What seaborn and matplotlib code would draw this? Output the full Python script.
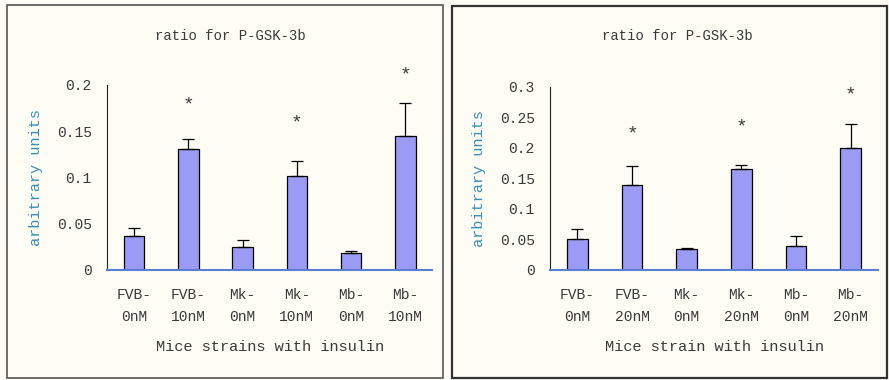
import numpy as np
import pandas as pd
import matplotlib.pyplot as plt
import seaborn as sns
from matplotlib.patches import Rectangle

sns.set_style("white")
plt.rcParams['font.family'] = ['Liberation Mono', 'DejaVu Sans Mono']

# data
labels_10 = ["FVB-\n0nM", "FVB-\n10nM", "Mk-\n0nM", "Mk-\n10nM", "Mb-\n0nM", "Mb-\n10nM"]
means_10 = [0.037, 0.131, 0.025, 0.102, 0.018, 0.145]
tops_10 = [0.045, 0.142, 0.032, 0.118, 0.021, 0.180]
stars_10 = [None, 0.178, None, 0.159, None, 0.211]

labels_20 = ["FVB-\n0nM", "FVB-\n20nM", "Mk-\n0nM", "Mk-\n20nM", "Mb-\n0nM", "Mb-\n20nM"]
means_20 = [0.051, 0.140, 0.034, 0.165, 0.039, 0.200]
tops_20 = [0.067, 0.170, 0.036, 0.172, 0.056, 0.239]
stars_20 = [None, 0.222, None, 0.235, None, 0.287]

bar_color = "#9b9bf5"
bg = "#fdfdf6"
txt = "#3a3a3a"

fig = plt.figure(figsize=(8.89, 3.80), dpi=100, facecolor=bg)

# panel frames
fig.patches.append(Rectangle((0.008, 0.005), 0.49, 0.982, transform=fig.transFigure,
                             fill=False, edgecolor="#555555", lw=1.2))
fig.patches.append(Rectangle((0.508, 0.005), 0.49, 0.978, transform=fig.transFigure,
                             fill=False, edgecolor="#333333", lw=1.6))


def draw(ax, labels, means, tops, stars, ymax, step, xlabel, title_x):
    df = pd.DataFrame({"group": labels, "value": means})
    sns.barplot(data=df, x="group", y="value", ax=ax, color=bar_color,
                edgecolor="black", linewidth=0.9, width=0.38, saturation=1)
    x = np.arange(len(means))
    upper = np.array(tops) - np.array(means)
    ax.errorbar(x, means, yerr=[np.zeros(len(means)), upper], fmt="none",
                ecolor="black", elinewidth=0.9, capsize=4, capthick=0.9)
    for xi, s in zip(x, stars):
        if s is not None:
            ax.text(xi, s, "*", ha="center", va="center", fontsize=14, color=txt)
    ax.set_ylim(0, ymax)
    ax.set_xlim(-0.5, len(means) - 0.5)
    ticks = np.arange(0, ymax + step / 2, step)
    ax.set_yticks(ticks)
    ax.set_yticklabels(["0"] + ["%g" % t for t in ticks[1:]], fontsize=10.5, color=txt)
    ax.set_xticks(x)
    ax.set_xticklabels(labels, fontsize=10.5, color=txt, linespacing=1.75)
    ax.set_xticks(np.arange(len(means) + 1) - 0.5, minor=True)
    ax.tick_params(axis="x", which="major", length=0, pad=13)
    ax.tick_params(axis="x", which="minor", length=3, direction="in")
    ax.tick_params(axis="y", length=3, direction="in", pad=11)
    ax.set_xlabel(xlabel, fontsize=11, color=txt, labelpad=11)
    ax.set_ylabel("arbitrary units", fontsize=11, color="#3a8fb0", labelpad=10)
    ax.set_facecolor(bg)
    for side in ["top", "right"]:
        ax.spines[side].set_visible(False)
    ax.spines["left"].set_color("#222222")
    ax.spines["bottom"].set_color("#5a7fd0")
    ax.spines["bottom"].set_linewidth(1.5)
    fig.text(title_x, 0.895, "ratio for P-GSK-3b", ha="center", fontsize=10, color=txt)


ax1 = fig.add_axes([0.1204, 0.2895, 0.366, 0.487])
draw(ax1, labels_10, means_10, tops_10, stars_10, 0.2, 0.05,
     "Mice strains with insulin", 0.259)

ax2 = fig.add_axes([0.6187, 0.2895, 0.369, 0.482])
draw(ax2, labels_20, means_20, tops_20, stars_20, 0.3, 0.05,
     "Mice strain with insulin", 0.762)

fig.savefig("out.png", dpi=100, facecolor=bg)
